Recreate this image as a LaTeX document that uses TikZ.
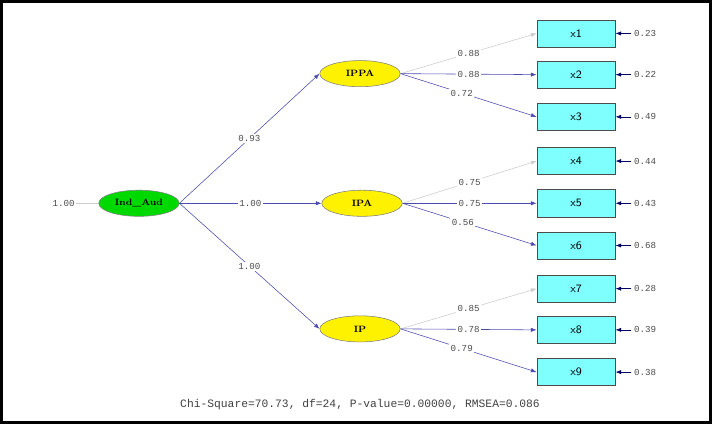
\documentclass[tikz,border=0pt]{standalone}
\usepackage{fontspec}
\setmonofont{Liberation Mono}
\usetikzlibrary{shapes.geometric,arrows.meta}
\definecolor{boxcyan}{RGB}{128,255,255}

\begin{document}
\begin{tikzpicture}[x=0.025cm,y=-0.025cm,
    font=\ttfamily\fontsize{6.5}{7}\selectfont,
    lat/.style={ellipse,draw=gray,fill=yellow,minimum width=80*0.025cm,minimum height=26*0.025cm,inner sep=0pt,font=\rmfamily\bfseries\fontsize{6.5}{7}\selectfont},
    obs/.style={rectangle,draw=black!70,fill=boxcyan,minimum width=78*0.025cm,minimum height=27*0.025cm,inner sep=0pt,font=\sffamily\fontsize{8}{9}\selectfont},
    path/.style={draw=blue!55!black!70,-{Latex[length=4pt,width=3pt]}},
    grey/.style={draw=black!20,-{Latex[length=4pt,width=3pt]}},
    lbl/.style={fill=white,inner sep=1pt,text=black!70}]
    \def\bx{575} % box column

    % frame
    \draw[line width=1.8pt] (3,3) rectangle (709,422);

    \node[lat,fill=green!85!black] (ind) at (140,204) {Ind\_Aud};
    \node[lbl] (var) at (65,204) {1.00};
    \draw[black!20] (var) -- (ind);

    \node[lat] (ippa) at (360,75) {IPPA};
    \node[lat] (ipa) at (362,204) {IPA};
    \node[lat] (ip) at (360,329) {IP};

    \draw[path] (ind.east) -- node[lbl,pos=0.5] {0.93} (ippa.west);
    \draw[path] (ind.east) -- node[lbl,pos=0.5] {1.00} (ipa.west);
    \draw[path] (ind.east) -- node[lbl,pos=0.5] {1.00} (ip.west);

    % indicators
    \foreach \i/\y/\e in {1/35/0.23,2/76/0.22,3/118/0.49,4/162/0.44,5/204/0.43,6/246/0.68,7/289/0.28,8/330/0.39,9/372/0.38} {
        \node[obs] (x\i) at (\bx,\y) {x\i};
        \coordinate (e\i) at (630,\y);
        \node[anchor=west,inner sep=1pt,text=black!70] at (631,\y) {\e};
        \draw[path,draw=blue!40!black] (e\i) -- (x\i.east);
    }

    \foreach \f/\a/\b/\c/\la/\lb/\lc in {ippa/1/2/3/0.88/0.88/0.72,ipa/4/5/6/0.75/0.75/0.56,ip/7/8/9/0.85/0.78/0.79} {
        \draw[grey] (\f.east) -- node[lbl,pos=0.5] {\la} (x\a.west);
        \draw[path] (\f.east) -- node[lbl,pos=0.5] {\lb} (x\b.west);
        \draw[path] (\f.east) -- node[lbl,pos=0.45] {\lc} (x\c.west);
    }

    \node[text=black!75,font=\ttfamily\fontsize{8}{9}\selectfont] (fit) at (360,404) {Chi-Square=70.73, df=24, P-value=0.00000, RMSEA=0.086};
\end{tikzpicture}
\end{document}
